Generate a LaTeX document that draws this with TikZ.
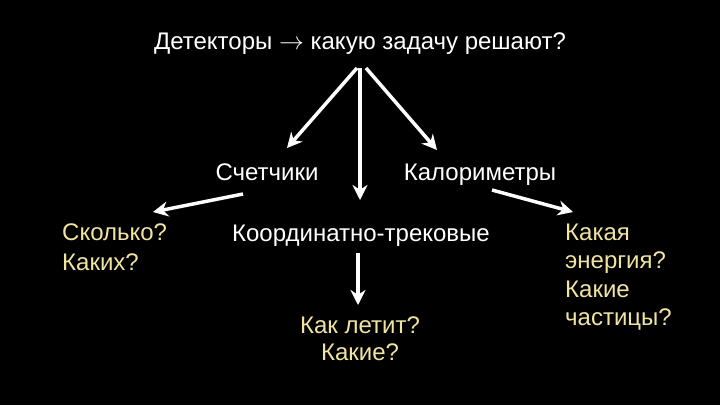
\documentclass[tikz,border=0pt]{standalone}
\usepackage{fontspec}
\setmainfont{Liberation Sans}
\usetikzlibrary{arrows.meta}
\definecolor{ans}{RGB}{240,228,160}
\begin{document}
\begin{tikzpicture}[x=1pt,y=-1pt,
  lbl/.style={text=white,font=\fontsize{24}{29}\selectfont,inner sep=0pt,anchor=base},
  anstext/.style={lbl,text=ans},
  arr/.style={draw=white,line width=3.5pt,-{Stealth[length=15pt,width=15pt]}}]
\fill[black] (0,0) rectangle (720,405);
\useasboundingbox (0,0) rectangle (720,405);
\node[lbl] (title) at (360,49) {Детекторы $\rightarrow$ какую задачу решают?};
\node[lbl] (schet) at (267,180) {Счетчики};
\node[lbl] (kal) at (480,180) {Калориметры};
\node[lbl] (koord) at (361,241) {Координатно-трековые};
\node[anstext,anchor=base west] (left1) at (62,240) {Сколько?};
\node[anstext,anchor=base west] (left2) at (62,270) {Каких?};
\node[anstext,anchor=base west] (right1) at (565,240) {Какая};
\node[anstext,anchor=base west] (right2) at (565,268) {энергия?};
\node[anstext,anchor=base west] (right3) at (565,297) {Какие};
\node[anstext,anchor=base west] (right4) at (565,325) {частицы?};
\node[anstext] (bottom1) at (360,333) {Как летит?};
\node[anstext] (bottom2) at (360,360) {Какие?};
\coordinate (t1) at (357,68);
\coordinate (t2) at (360,68);
\coordinate (t3) at (366,68);
\coordinate (e1) at (287,148);
\coordinate (e2) at (360,200);
\coordinate (e3) at (437,150);
\coordinate (l0) at (243,194);
\coordinate (l1) at (153,212);
\coordinate (r0) at (492,190);
\coordinate (r1) at (573,212);
\coordinate (d0) at (358,253);
\coordinate (d1) at (358,305);
\draw[arr] (t1) -- (e1);
\draw[arr] (t2) -- (e2);
\draw[arr] (t3) -- (e3);
\draw[arr] (l0) -- (l1);
\draw[arr] (r0) -- (r1);
\draw[arr] (d0) -- (d1);
\end{tikzpicture}
\end{document}
